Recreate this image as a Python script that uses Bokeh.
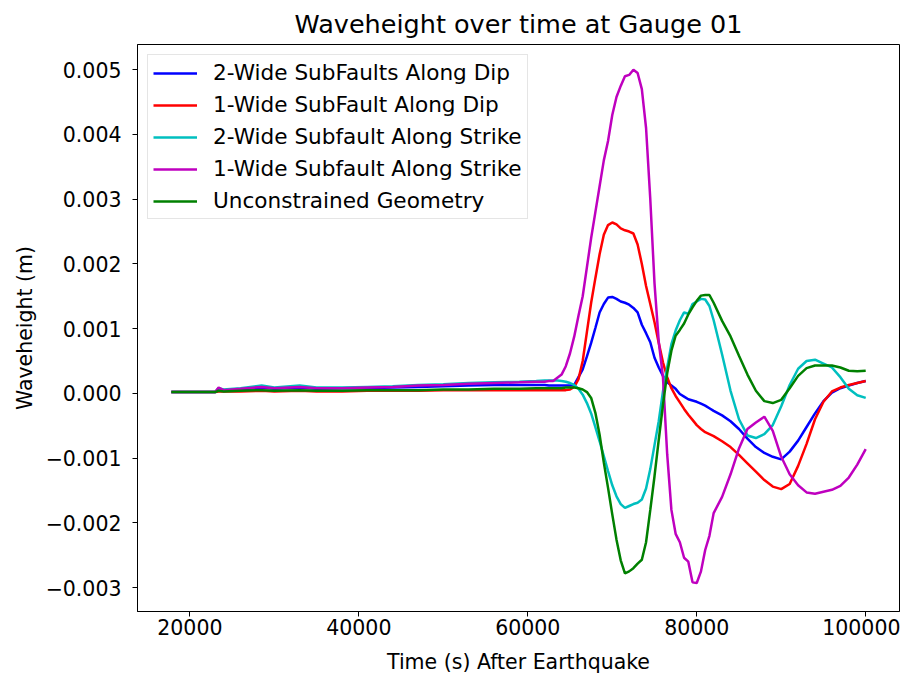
from bokeh.plotting import figure
from bokeh.models import FixedTicker, CustomJSTickFormatter, NumeralTickFormatter, Legend, LegendItem, Range1d
from bokeh.embed import file_html
from bokeh.resources import INLINE

# ---- data (wave heights in units of 0.001 m) ----
time_s = [17800, 20000, 23000, 23400, 24000, 26000, 28500, 30000, 33000, 35000,
          38000, 41000, 44000, 47000, 50000, 53000, 56000, 59000, 61000, 62000, 62500,
          63000, 63500, 64000, 64500, 65000, 65500, 66000, 66500, 67000, 67500,
          68000, 68500, 69000, 69500, 70000, 70500, 71000, 71500, 72000, 72500,
          73000, 73500, 74000, 74500, 75000, 75500, 76000, 76500, 77000, 77500,
          78000, 78500, 79000, 79500, 80000, 80500, 81000, 81500, 82000,
          83000, 84000, 85000, 86000, 87000, 88000, 89000, 90000, 91000, 92000,
          93000, 94000, 95000, 96000, 97000, 98000, 99000, 100000]

two_wide_dip = [0.02, 0.02, 0.02, 0.07, 0.05, 0.06, 0.09, 0.07, 0.09, 0.07,
                0.08, 0.08, 0.09, 0.10, 0.11, 0.12, 0.13, 0.13, 0.13, 0.13, 0.12,
                0.12, 0.12, 0.12, 0.12, 0.12, 0.13, 0.25, 0.37, 0.57, 0.78,
                1.01, 1.25, 1.38, 1.48, 1.49, 1.46, 1.42, 1.40, 1.37, 1.32,
                1.25, 1.06, 0.93, 0.79, 0.55, 0.40, 0.27, 0.17, 0.12, 0.07,
                -0.01, -0.05, -0.09, -0.11, -0.13, -0.16, -0.19, -0.23, -0.27,
                -0.34, -0.43, -0.55, -0.70, -0.83, -0.92, -0.98, -1.02, -0.90, -0.73,
                -0.52, -0.31, -0.12, 0.01, 0.08, 0.12, 0.16, 0.19]

one_wide_dip = [0.02, 0.02, 0.02, 0.03, 0.03, 0.03, 0.04, 0.03, 0.04, 0.03,
                0.03, 0.04, 0.04, 0.04, 0.05, 0.05, 0.05, 0.05, 0.05, 0.05, 0.05,
                0.05, 0.05, 0.05, 0.05, 0.06, 0.10, 0.22, 0.50, 0.95, 1.40,
                1.78, 2.15, 2.45, 2.60, 2.64, 2.61, 2.55, 2.52, 2.50, 2.47,
                2.30, 2.00, 1.66, 1.38, 1.10, 0.78, 0.48, 0.25, 0.08, -0.04,
                -0.14, -0.24, -0.33, -0.41, -0.49, -0.55, -0.60, -0.63, -0.66,
                -0.74, -0.83, -0.95, -1.08, -1.21, -1.34, -1.44, -1.48, -1.40, -1.12,
                -0.78, -0.40, -0.13, 0.03, 0.09, 0.13, 0.16, 0.19]

two_wide_strike = [0.02, 0.02, 0.02, 0.08, 0.06, 0.08, 0.12, 0.09, 0.12, 0.09,
                   0.09, 0.10, 0.11, 0.13, 0.14, 0.16, 0.17, 0.18, 0.19, 0.20, 0.20,
                   0.20, 0.20, 0.19, 0.18, 0.16, 0.13, 0.07, -0.02, -0.15, -0.31,
                   -0.52, -0.74, -0.97, -1.20, -1.42, -1.59, -1.71, -1.77, -1.74, -1.71,
                   -1.69, -1.64, -1.47, -1.17, -0.80, -0.43, 0.03, 0.40, 0.76, 0.97,
                   1.13, 1.25, 1.23, 1.38, 1.42, 1.46, 1.45, 1.35, 1.13,
                   0.60, 0.04, -0.40, -0.65, -0.69, -0.63, -0.49, -0.20, 0.13, 0.38,
                   0.50, 0.52, 0.46, 0.40, 0.25, 0.07, -0.03, -0.07]

one_wide_strike = [0.02, 0.02, 0.02, 0.09, 0.05, 0.07, 0.10, 0.08, 0.10, 0.08,
                   0.08, 0.09, 0.10, 0.12, 0.13, 0.15, 0.16, 0.17, 0.18, 0.18, 0.19,
                   0.19, 0.24, 0.29, 0.42, 0.62, 0.88, 1.20, 1.50, 1.95, 2.40,
                   2.80, 3.20, 3.60, 3.90, 4.30, 4.58, 4.75, 4.90, 4.92, 5.00,
                   4.95, 4.70, 4.10, 3.00, 1.70, 0.80, 0.25, -0.94, -1.80, -2.17,
                   -2.30, -2.54, -2.60, -2.92, -2.93, -2.75, -2.42, -2.20, -1.85,
                   -1.60, -1.25, -0.85, -0.55, -0.45, -0.36, -0.58, -0.98, -1.25, -1.42,
                   -1.53, -1.55, -1.52, -1.49, -1.43, -1.30, -1.10, -0.86]

unconstrained = [0.02, 0.02, 0.02, 0.04, 0.03, 0.04, 0.05, 0.04, 0.05, 0.04,
                 0.04, 0.05, 0.05, 0.05, 0.06, 0.06, 0.07, 0.07, 0.08, 0.08, 0.08,
                 0.08, 0.08, 0.08, 0.09, 0.09, 0.09, 0.08, 0.06, 0.02, -0.07,
                 -0.30, -0.64, -1.07, -1.46, -1.87, -2.26, -2.58, -2.78, -2.75, -2.70,
                 -2.63, -2.57, -2.30, -1.80, -1.28, -0.72, -0.18, 0.31, 0.66, 0.89,
                 0.98, 1.08, 1.22, 1.33, 1.43, 1.51, 1.52, 1.52, 1.40,
                 1.12, 0.88, 0.58, 0.29, 0.04, -0.12, -0.15, -0.10, 0.08, 0.27,
                 0.39, 0.43, 0.43, 0.43, 0.40, 0.35, 0.34, 0.35]

series_names = ["2-Wide SubFaults Along Dip", "1-Wide SubFault Along Dip",
                "2-Wide Subfault Along Strike", "1-Wide Subfault Along Strike",
                "Unconstrained Geometry"]
series_colors = ["#0000ff", "#ff0000", "#00bfbf", "#bf00bf", "#008000"]
series_values = [two_wide_dip, one_wide_dip, two_wide_strike, one_wide_strike, unconstrained]

x_ticks = [20000, 40000, 60000, 80000, 100000]
y_ticks = [-0.003, -0.002, -0.001, 0.0, 0.001, 0.002, 0.003, 0.004, 0.005]

FONT = "DejaVu Sans"
TXT = "20.5px"

p = figure(width=900, height=676, output_backend="svg", toolbar_location=None,
           title="Waveheight over time at Gauge 01",
           x_range=Range1d(13800, 104000), y_range=Range1d(-0.00337, 0.00539),
           min_border_left=137, min_border_right=1, min_border_top=44, min_border_bottom=60)

items = []
for name, color, vals in zip(series_names, series_colors, series_values):
    r = p.line(time_s, [v / 1000.0 for v in vals], line_color=color, line_width=2.5)
    items.append(LegendItem(label=name, renderers=[r]))

legend = Legend(items=items, location="top_left")
legend.label_text_font = FONT
legend.label_text_font_size = "21.6px"
legend.label_text_color = "#000000"
legend.label_height = 24
legend.glyph_height = 24
legend.glyph_width = 44
legend.label_standoff = 16
legend.spacing = 7
legend.padding = 5
legend.margin = 10
legend.border_line_color = "#cccccc"
legend.border_line_width = 1
legend.background_fill_alpha = 0.8
p.add_layout(legend)

p.title.text_font = FONT
p.title.text_font_size = "25.5px"
p.title.text_font_style = "normal"
p.title.text_color = "#000000"
p.title.text_line_height = 0.9
p.title.align = "center"
p.title.standoff = 11

p.xgrid.visible = False
p.ygrid.visible = False
p.outline_line_color = "#000000"
p.outline_line_width = 1
p.outline_line_alpha = 1

p.xaxis.ticker = FixedTicker(ticks=x_ticks)
p.yaxis.ticker = FixedTicker(ticks=y_ticks)
p.xaxis.formatter = NumeralTickFormatter(format="0")
p.yaxis.formatter = CustomJSTickFormatter(
    code="return (tick < -1e-12 ? '\u2212' : '') + Math.abs(tick).toFixed(3);")

p.xaxis.axis_label = "Time (s) After Earthquake"
p.yaxis.axis_label = "Waveheight (m)"
for ax in (p.xaxis[0], p.yaxis[0]):
    ax.axis_label_text_font = FONT
    ax.axis_label_text_font_size = TXT
    ax.axis_label_text_font_style = "normal"
    ax.axis_label_text_color = "#000000"
    ax.major_label_text_font = FONT
    ax.major_label_text_font_size = TXT
    ax.major_label_text_color = "#000000"
    ax.axis_line_color = "#000000"
    ax.major_tick_line_color = "#000000"
    ax.major_tick_in = 0
    ax.major_tick_out = 5
    ax.minor_tick_line_color = None

p.xaxis.major_label_standoff = 2
p.xaxis.axis_label_standoff = 12
p.yaxis.major_label_standoff = 11
p.yaxis.axis_label_standoff = 6

open("out.html", "w").write(file_html(p, INLINE))
